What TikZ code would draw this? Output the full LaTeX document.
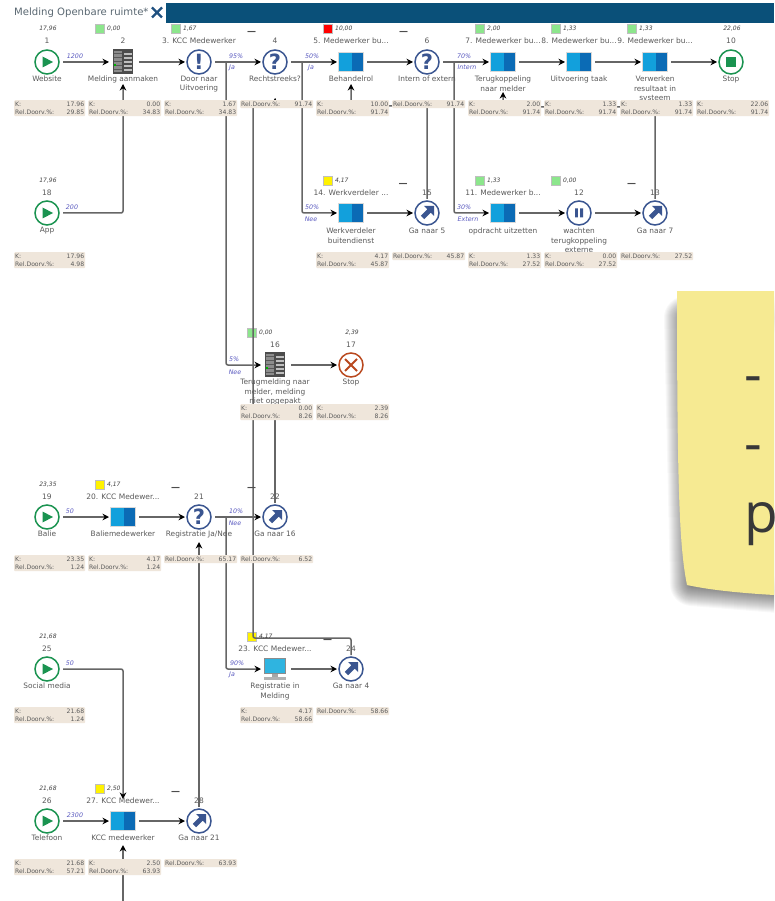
\documentclass[tikz,border=0pt]{standalone}
\usepackage{fontspec}
\setmainfont{DejaVu Sans}
\newfontfamily\notefont{Open Sans}
\usetikzlibrary{arrows.meta,calc}
\definecolor{greenc}{HTML}{1A9350}
\definecolor{bluec}{HTML}{3A5590}
\definecolor{redc}{HTML}{B9481E}
\definecolor{linec}{HTML}{666666}
\definecolor{kpic}{HTML}{EFE6DB}
\definecolor{txtc}{HTML}{5A5A5A}
\definecolor{purp}{HTML}{5A5AC0}
\definecolor{sqg}{HTML}{8CE68C}
\definecolor{headc}{HTML}{0A5079}
\definecolor{notec}{HTML}{F6EA92}
\definecolor{titlec}{HTML}{5A6872}
\tikzset{
 hit/.style={minimum size=28pt,inner sep=0pt,outer sep=0pt},
 conn/.style={draw=linec,line width=1.5pt,rounded corners=2pt,shorten <=2pt,
   -{Stealth[length=6.5pt,width=6.5pt,color=black]}},
 lab/.style={font=\fontsize{7.4}{9.2}\selectfont,text=txtc,align=center,inner sep=0pt,anchor=north,yshift=-1pt},
 ttl/.style={font=\fontsize{7.5}{9}\selectfont,text=txtc,inner sep=0pt},
 val/.style={font=\fontsize{6}{7}\itshape\selectfont,text=black!75,inner sep=0pt},
 elab/.style={font=\fontsize{6.3}{7}\itshape\selectfont,text=purp,inner sep=0pt},
 kpibox/.style={fill=kpic,rounded corners=1pt,inner sep=0pt,anchor=north west,
   font=\fontsize{6.1}{8}\selectfont,text=txtc},
 sq/.style={minimum size=9pt,inner sep=0pt,draw=black!25,line width=.4pt},
 dashmark/.style={font=\fontsize{9}{9}\bfseries\selectfont,text=black!70,inner sep=0pt},
 startic/.pic={\draw[greenc,fill=white,line width=1.5pt] (0,0) circle (12);
   \fill[greenc] (-4.5,-5.5) -- (6,0) -- (-4.5,5.5) -- cycle;},
 stopic/.pic={\draw[greenc,fill=white,line width=1.5pt] (0,0) circle (12);
   \fill[greenc] (-5,-5) rectangle (5,5);},
 questic/.pic={\draw[bluec,fill=white,line width=1.5pt] (0,0) circle (12);
   \node[font=\fontsize{21}{21}\bfseries\selectfont,text=bluec,inner sep=0pt] (-t) at (0,0) {?};},
 exclic/.pic={\draw[bluec,fill=white,line width=1.5pt] (0,0) circle (12);
   \node[font=\fontsize{21}{21}\bfseries\selectfont,text=bluec,inner sep=0pt] (-t) at (0,0) {!};},
 gotoic/.pic={\draw[bluec,fill=white,line width=1.5pt] (0,0) circle (12);
   \fill[bluec] (7,-7) -- (7,3) -- (3.8,-.4) -- (-2.8,6.2) -- (-6.2,2.8) -- (.4,-3.8) -- (-3,-7) -- cycle;},
 pauseic/.pic={\draw[bluec,fill=white,line width=1.5pt] (0,0) circle (12);
   \fill[bluec] (-4,-4.5) rectangle (-1.2,4.5) (1.2,-4.5) rectangle (4,4.5);},
 xic/.pic={\draw[redc,fill=white,line width=1.5pt] (0,0) circle (12);
   \draw[redc,line width=1.8pt] (-6,-6) -- (6,6) (-6,6) -- (6,-6);},
 taskic/.pic={\fill[white] (-13,-10) rectangle (13,10);
   \draw[black!15,line width=.6pt] (-12.6,-9.6) rectangle (12.6,9.6);
   \fill[HTML=12A0DC] (-12.2,-9.2) rectangle (.5,9.2);
   \fill[HTML=0B6BB5] (.5,-9.2) rectangle (12.2,9.2);},
 serveric/.pic={\fill[black!70] (-10,-13) rectangle (10,12);
   \fill[black!45] (-9,-11) rectangle (-1,10);
   \foreach \r in {-9,-5,-1,3,7}{\fill[black!25] (1,\r) rectangle (9,\r+2);
     \fill[black!65] (-9,\r) rectangle (-1,\r+1);}
   \fill[green!70!black] (-9,2) rectangle (-7,4);},
 monic/.pic={\fill[black!45] (-11,-11) rectangle (11,5);
   \fill[HTML=2FB4E0] (-10,-10) rectangle (10,4);
   \fill[black!35] (-3,5) rectangle (3,8);
   \fill[black!30] (-11,8) rectangle (11,10.5);},
 HTML/.code={\definecolor{tmpc}{HTML}{#1}\pgfkeysalso{color=tmpc}},
}
\newcount\kpin
\newcommand{\ic}[4]{\node[hit] (#1) at (#2,#3) {}; \pic (#1p) at (#1) {#4};}
\newcommand{\kst}{\rule{0pt}{6pt}\rule[-2pt]{0pt}{2pt}}
\newcommand{\kpi}[6]{\global\advance\kpin by 1
 \node[kpibox] (kpi\the\kpin) at (#1,#2) {\vbox{\hsize=#3pt\offinterlineskip
   \hbox to #3pt{\kst\hspace{1pt}#4\hfill#5\hspace{1pt}}\ifx&#6&\else\hbox to #3pt{\kst\hspace{1pt}#6\hspace{1pt}}\fi}};}
\newcommand{\kk}[5]{\kpi{#1}{#2}{#3}{K:}{#4}{Rel.Doorv.\%:\hfill #5}}
\newcommand{\kr}[4]{\kpi{#1}{#2}{#3}{Rel.Doorv.\%:}{#4}{}}
\begin{document}
\begin{tikzpicture}[x=1pt,y=-1pt]
\useasboundingbox (0,0) rectangle (774,901);
\clip (0,0) rectangle (774,901);
\fill[white] (0,0) rectangle (774,901);
% header
\fill[headc] (166,3) rectangle (774,23);
\node[font=\fontsize{10.1}{11}\selectfont,text=titlec,anchor=west,inner sep=0pt] (title) at (14,12.5) {Melding Openbare ruimte*};
\draw[HTML=1F5080,line width=2.4pt] (152,7.5) -- (162,17.5) (152,17.5) -- (162,7.5);
% sticky note
\foreach \w in {44,42,...,2}{
 \draw[black,opacity=.026,line width=\w pt,line join=round]
  (686,318) -- (790,318) -- (790,592) -- (692,584) -- cycle;}
\fill[notec] (677,291) -- (774,291) -- (774,595) .. controls (740,593) and (710,590) .. (687,585)
  .. controls (680,550) and (677,500) .. cycle;
\node[font=\notefont\fontsize{55}{55}\selectfont,text=black!78,anchor=base west,inner sep=0pt] (d1) at (744,393) {-};
\node[font=\notefont\fontsize{55}{55}\selectfont,text=black!78,anchor=base west,inner sep=0pt] (d2) at (744,462) {-};
\node[font=\notefont\fontsize{55}{55}\selectfont,text=black!78,anchor=base west,inner sep=0pt] (d3) at (744,532) {p};
% squares
\foreach \n/\x/\y/\c in {s2/99.5/29/sqg,s3/175.5/29/sqg,s5/327.5/29/red,s7/479.5/29/sqg,s8/555.5/29/sqg,s9/631.5/29/sqg,
  s14/327.5/181/yellow,s11/479.5/181/sqg,s12/555.5/181/sqg,s16/251.5/333/sqg,s20/99.5/485/yellow,s23/251.5/637/yellow,s27/99.5/789/yellow}
 {\node[sq,fill=\c] (\n) at (\x,\y) {};}
% icons
\ic{n1}{47}{62}{startic}\ic{n2}{123}{62}{serveric}\ic{n3}{199}{62}{exclic}\ic{n4}{275}{62}{questic}
\ic{n5}{351}{62}{taskic}\ic{n6}{427}{62}{questic}\ic{n7}{503}{62}{taskic}\ic{n8}{579}{62}{taskic}
\ic{n9}{655}{62}{taskic}\ic{n10}{731}{62}{stopic}
\ic{n18}{47}{213}{startic}\ic{n14}{351}{213}{taskic}\ic{n15}{427}{213}{gotoic}
\ic{n11}{503}{213}{taskic}\ic{n12}{579}{213}{pauseic}\ic{n13}{655}{213}{gotoic}
\ic{n16}{275}{365}{serveric}\ic{n17}{351}{365}{xic}
\ic{n19}{47}{517}{startic}\ic{n20}{123}{517}{taskic}\ic{n21}{199}{517}{questic}\ic{n22}{275}{517}{gotoic}
\ic{n25}{47}{669}{startic}\ic{n23}{275}{669}{monic}\ic{n24}{351}{669}{gotoic}
\ic{n26}{47}{821}{startic}\ic{n27}{123}{821}{taskic}\ic{n28}{199}{821}{gotoic}
% named free ends
\coordinate (in2) at (123,84);
\coordinate (in4) at (275,98);
\coordinate (in5) at (351,84);
\coordinate (in7) at (503,92);
\coordinate (in16) at (275,403);
\coordinate (in21) at (199,542);
\coordinate (in27t) at (123,799);
\coordinate (in27b) at (123,845);
\coordinate (off) at (123,901);
\coordinate (j3) at (226,62);
\coordinate (j4) at (302,62);
\coordinate (j6) at (454,62);
\coordinate (j21) at (226,517);
\coordinate (h15) at (427,106);
\coordinate (h13) at (655,107);
\coordinate (w4a) at (253,638);
\coordinate (w4b) at (253,104);
% connectors
\foreach \a/\b in {n1/n2,n2/n3,n3/n4,n4/n5,n5/n6,n6/n7,n7/n8,n8/n9,n9/n10,
  n14/n15,n11/n12,n12/n13,n16/n17,n19/n20,n20/n21,n21/n22,n23/n24,n26/n27,n27/n28}
 {\draw[conn] (\a) -- (\b);}
\draw[conn] (n18) -| (in2);
\draw[conn,shorten <=0pt] (j3) |- (n16);
\draw[conn,shorten <=0pt] (j4) |- (n14);
\draw[conn,shorten <=0pt] (j6) |- (n11);
\draw[conn,shorten <=0pt] (j21) |- (n23);
\draw[conn,shorten <=0pt] (n15.north) |- (h15) -| (in5);
\draw[conn,shorten <=0pt] (n13.north) |- (h13) -| (in7);
\draw[conn,shorten <=0pt] (n22.north) -- (in16);
\draw[conn,shorten <=0pt] (n28.north) -- (in21);
\draw[conn,shorten <=0pt] (n24.north) |- (w4a) -- (w4b) -| (in4);
\draw[conn] (n25) -| (in27t);
\draw[conn,shorten <=0pt] (off) -- (in27b);
% edge labels
\foreach \n/\x/\y/\t in {e1/75/56/1200,e2/236/56/95\%,e3/232/68/Ja,e4/312/56/50\%,e5/311/68/Ja,e6/464/56/70\%,e7/467/67/Intern,
  e8/72/207/200,e9/312/207/50\%,e10/311/219/Nee,e11/464/207/30\%,e12/468/219/Extern,e13/234/359/5\%,e14/235/372/Nee,
  e15/70/511/50,e16/236/511/10\%,e17/235/523/Nee,e18/237/663/90\%,e19/232/675/Ja,e20/70/663/50,e21/75/815/2300}
 {\node[elab] (\n) at (\x,\y) {\t};}
% values
\foreach \n/\x/\y/\t in {v1/48/29/{17,96},v10/732/29/{22,06},v18/48/181/{17,96},v17/352/333/{2,39},v19/48/485/{23,35},v25/48/637/{21,68},v26/48/789/{21,68}}
 {\node[val] (\n) at (\x,\y) {\t};}
\foreach \n/\x/\y/\t in {v2/107/29/{0,00},v3/183/29/{1,67},v5/335/29/{10,00},v7/487/29/{2,00},v8/563/29/{1,33},v9/639/29/{1,33},
  v14/335/181/{4,17},v11/487/181/{1,33},v12/563/181/{0,00},v16/259/333/{0,00},v20/107/485/{4,17},v23/259/637/{4,17},v27/107/789/{2,50}}
 {\node[val,anchor=west] (\n) at (\x,\y) {\t};}
% dash marks
\foreach \n/\x/\y in {m4/251.5/33,m6/403.5/33,m15/403/185,m13/631.5/185,m21/175.5/489,m22/251.5/489,m24/327.5/641,m28/175.5/793}
 {\node[dashmark] (\n) at (\x,\y) {—};}
% titles
\foreach \n/\x/\y/\t in {t1/47/41/1,t2/123/41/2,t3/199/41/{3. KCC Medewerker},t4/275/41/4,t5/351/41/{5. Medewerker bu...},t6/427/41/6,
  t7/503/41/{7. Medewerker bu...},t8/579/41/{8. Medewerker bu...},t9/655/41/{9. Medewerker bu...},t10/731/41/10,
  t18/47/193/18,t14/351/193/{14. Werkverdeler ...},t15/427/193/15,t11/503/193/{11. Medewerker b...},t12/579/193/12,t13/655/193/13,
  t16/275/345/16,t17/351/345/17,t19/47/497/19,t20/123/497/{20. KCC Medewer...},t21/199/497/21,t22/275/497/22,
  t25/47/649/25,t23/275/649/{23. KCC Medewer...},t24/351/649/24,t26/47/801/26,t27/123/801/{27. KCC Medewer...},t28/199/801/28}
 {\node[ttl] (\n) at (\x,\y) {\t};}
% labels
\foreach \n/\x/\y/\t in {l1/47/75/Website,l2/123/75/{Melding aanmaken},l3/199/75/{Door naar\\Uitvoering},l4/275/75/{Rechtstreeks?},
  l5/351/75/Behandelrol,l6/427/75/{Intern of extern},l7/503/75/{Terugkoppeling\\naar melder},l8/579/75/{Uitvoering taak},
  l9/655/75/{Verwerken\\resultaat in\\systeem},l10/731/75/Stop,
  l18/47/226/App,l14/351/227/{Werkverdeler\\buitendienst},l15/427/227/{Ga naar 5},l11/503/227/{opdracht uitzetten},
  l12/579/227/{wachten\\terugkoppeling\\externe},l13/655/227/{Ga naar 7},
  l16/275/378/{Terugmelding naar\\melder, melding\\niet opgepakt},l17/351/378/Stop,
  l19/47/530/Balie,l20/123/530/Baliemedewerker,l21/199/530/{Registratie Ja/Nee},l22/275/530/{Ga naar 16},
  l25/47/682/{Social media},l23/275/682/{Registratie in\\Melding},l24/351/682/{Ga naar 4},
  l26/47/834/Telefoon,l27/123/834/{KCC medewerker},l28/199/834/{Ga naar 21}}
 {\node[lab] (\n) at (\x,\y) {\t};}
% KPI boxes
\kk{14}{100}{71}{17.96}{29.85}\kk{88}{100}{73}{0.00}{34.83}\kk{164}{100}{73}{1.67}{34.83}\kr{240}{100}{73}{91.74}
\kk{316}{100}{73}{10.00}{91.74}\kr{392}{100}{73}{91.74}\kk{468}{100}{73}{2.00}{91.74}\kk{544}{100}{73}{1.33}{91.74}
\kk{620}{100}{73}{1.33}{91.74}\kk{696}{100}{73}{22.06}{91.74}
\kk{14}{252}{71}{17.96}{4.98}\kk{316}{252}{73}{4.17}{45.87}\kr{392}{252}{73}{45.87}\kk{468}{252}{73}{1.33}{27.52}
\kk{544}{252}{73}{0.00}{27.52}\kr{620}{252}{73}{27.52}
\kk{240}{404}{73}{0.00}{8.26}\kk{316}{404}{73}{2.39}{8.26}
\kk{14}{555}{71}{23.35}{1.24}\kk{88}{555}{73}{4.17}{1.24}\kr{164}{555}{73}{65.17}\kr{240}{555}{73}{6.52}
\kk{14}{707}{71}{21.68}{1.24}\kk{240}{707}{73}{4.17}{58.66}\kr{316}{707}{73}{58.66}
\kk{14}{859}{71}{21.68}{57.21}\kk{88}{859}{73}{2.50}{63.93}\kr{164}{859}{73}{63.93}
\end{tikzpicture}
\end{document}
